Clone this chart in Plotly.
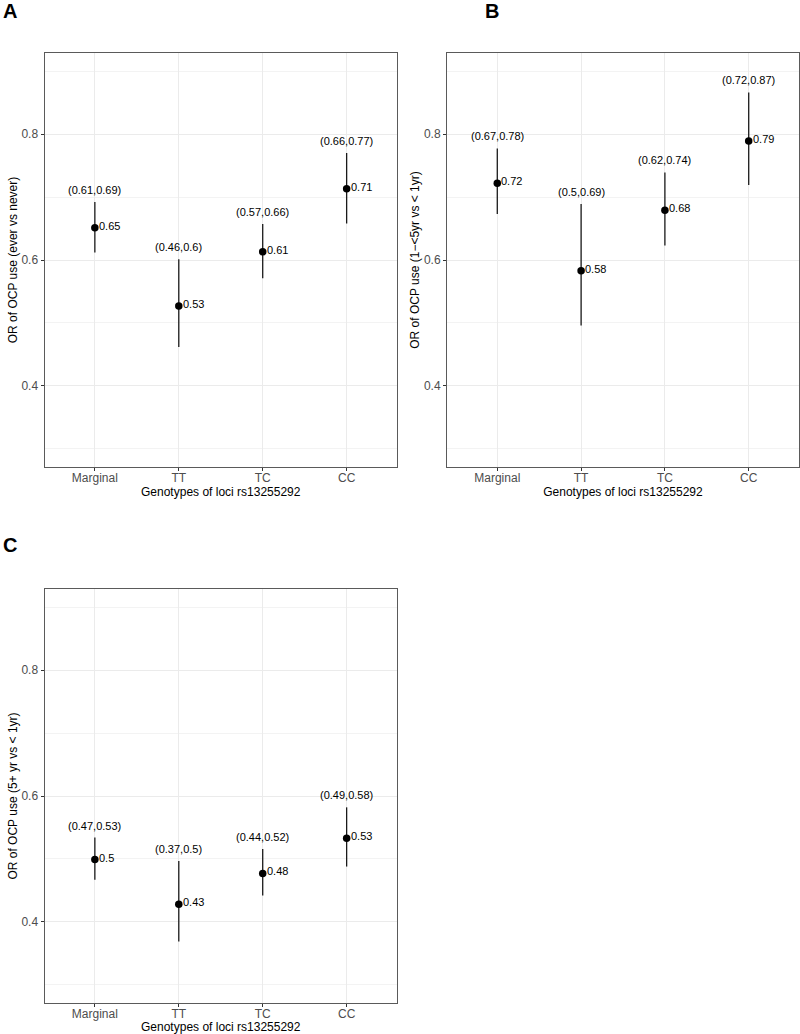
import plotly.graph_objects as go

categories = ["Marginal", "TT", "TC", "CC"]

# Panel A: OR of OCP use (ever vs never)
a_est = [0.651, 0.527, 0.613, 0.713]
a_lo = [0.612, 0.462, 0.571, 0.658]
a_hi = [0.692, 0.601, 0.657, 0.770]

# Panel B: OR of OCP use (1-<5yr vs <1yr)
b_est = [0.722, 0.583, 0.679, 0.789]
b_lo = [0.673, 0.496, 0.623, 0.719]
b_hi = [0.777, 0.689, 0.739, 0.866]

# Panel C: OR of OCP use (5+ yr vs <1yr)
c_est = [0.499, 0.428, 0.477, 0.533]
c_lo = [0.467, 0.369, 0.442, 0.488]
c_hi = [0.534, 0.497, 0.516, 0.582]

y_titles = ["OR of OCP use (ever vs never)",
            "OR of OCP use (1\u2212<5yr vs < 1yr)",
            "OR of OCP use (5+ yr vs < 1yr)"]
panel_letters = ["A", "B", "C"]
x_title = "Genotypes of loci rs13255292"
y_tickvals = [0.4, 0.6, 0.8]

W, H = 800, 1034
FONT = "Liberation Sans, Arial, Helvetica, sans-serif"


def fmt(v):
    return f"{round(v, 2):g}"


# pixel boxes (left, right, top, bottom)
boxes = [(44.5, 397, 53, 467), (447, 799, 53, 467), (44.5, 397, 589, 1003)]
letter_pos = [(1, 11), (483, 11), (1, 545)]

fig = go.Figure()
datasets = [(a_est, a_lo, a_hi), (b_est, b_lo, b_hi), (c_est, c_lo, c_hi)]
annotations = []
xs = list(range(len(categories)))

for i, ((est, lo, hi), box) in enumerate(zip(datasets, boxes)):
    n = i + 1
    xa = "x" if n == 1 else f"x{n}"
    ya = "y" if n == 1 else f"y{n}"
    l, r, t, b = box
    fig.add_trace(go.Scatter(
        x=xs, y=est, xaxis=xa, yaxis=ya, mode="markers",
        marker=dict(color="black", size=7.5),
        error_y=dict(type="data", symmetric=False,
                     array=[h - e for h, e in zip(hi, est)],
                     arrayminus=[e - lo_ for e, lo_ in zip(est, lo)],
                     width=0, thickness=1.3, color="#1a1a1a"),
        showlegend=False, hoverinfo="skip"))
    for x, e, lo_, h in zip(xs, est, lo, hi):
        annotations.append(dict(x=x, y=h, xref=xa, yref=ya,
                                text=f"({fmt(lo_)},{fmt(h)})", showarrow=False,
                                yanchor="middle", yshift=12,
                                font=dict(size=11, color="black", family=FONT)))
        annotations.append(dict(x=x, y=e, xref=xa, yref=ya,
                                text=fmt(e), showarrow=False,
                                xanchor="left", xshift=2, yanchor="middle", yshift=2,
                                font=dict(size=11, color="black", family=FONT)))
    axis_common = dict(showline=True, linecolor="#5a5a5a", linewidth=1, mirror=True,
                       ticks="outside", ticklen=3, tickcolor="#333333",
                       tickfont=dict(size=12, color="#4d4d4d", family=FONT),
                       gridcolor="#ebebeb", gridwidth=1, zeroline=False)
    xkey = "xaxis" if n == 1 else f"xaxis{n}"
    ykey = "yaxis" if n == 1 else f"yaxis{n}"
    fig.update_layout(**{
        xkey: dict(axis_common, domain=[l / W, r / W], anchor=ya,
                   range=[-0.6, 3.6], tickvals=xs, ticktext=categories,
                   ticklabelstandoff=-3,
                   title=dict(text=x_title, standoff=0,
                              font=dict(size=12, color="black", family=FONT))),
        ykey: dict(axis_common, domain=[1 - b / H, 1 - t / H], anchor=xa,
                   range=[0.2714, 0.9286], tickvals=y_tickvals,
                   ticktext=[fmt(v) for v in y_tickvals],
                   minor=dict(showgrid=True, gridcolor="#f3f3f3", gridwidth=1,
                              tick0=0.3, dtick=0.2, ticks=""),
                   title=dict(text=y_titles[i], standoff=1,
                              font=dict(size=12, color="black", family=FONT))),
    })
    lx, ly = letter_pos[i]
    annotations.append(dict(x=lx / W, y=1 - ly / H, xref="paper", yref="paper",
                            text=f"<b>{panel_letters[i]}</b>", showarrow=False,
                            xanchor="left", yanchor="middle",
                            font=dict(size=20, color="black", family=FONT)))

fig.update_layout(width=W, height=H, margin=dict(l=0, r=0, t=0, b=0),
                  plot_bgcolor="white", paper_bgcolor="white",
                  annotations=annotations, font=dict(family=FONT))
fig.write_html("out.html", config={"displayModeBar": False},
               post_script="document.body.style.margin='0';document.body.style.overflow='hidden';")
